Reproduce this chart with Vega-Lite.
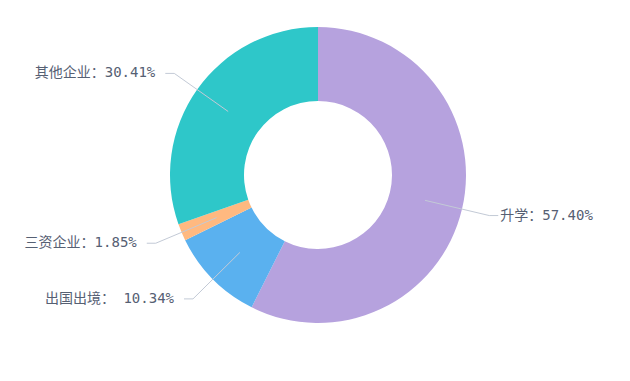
{
  "$schema": "https://vega.github.io/schema/vega-lite/v6.json",
  "width": 626,
  "height": 340,
  "padding": 5,
  "autosize": {"type": "none"},
  "background": "white",
  "config": {"view": {"stroke": null}},
  "data": {
    "values": [
      {"cat": "升学", "value": 57.40, "label": "升学：57.40%"},
      {"cat": "出国出境", "value": 10.34, "label": "出国出境： 10.34%"},
      {"cat": "三资企业", "value": 1.85, "label": "三资企业：1.85%"},
      {"cat": "其他企业", "value": 30.41, "label": "其他企业：30.41%"}
    ]
  },
  "transform": [
    {"window": [{"op": "row_number", "as": "idx"}]},
    {"joinaggregate": [{"op": "sum", "field": "value", "as": "total"}]},
    {"window": [{"op": "sum", "field": "value", "as": "cum"}], "sort": [{"field": "idx"}], "frame": [null, 0]},
    {"calculate": "2*PI*(datum.cum - datum.value/2)/datum.total", "as": "mid"},
    {"calculate": "sin(datum.mid)", "as": "sx"},
    {"calculate": "cos(datum.mid)", "as": "cy"},
    {"calculate": "datum.sx >= 0 ? 1 : -1", "as": "side"},
    {"calculate": "110*datum.sx", "as": "x0"},
    {"calculate": "110*datum.cy", "as": "y0"},
    {"calculate": "176*datum.sx", "as": "x1"},
    {"calculate": "176*datum.cy", "as": "y1"},
    {"calculate": "datum.x1 + datum.side*9", "as": "x2"},
    {"calculate": "datum.side > 0 ? datum.x2 + 2 : datum.x2 - 10", "as": "tx"}
  ],
  "layer": [
    {
      "mark": {"type": "arc", "outerRadius": 148, "innerRadius": 74},
      "encoding": {
        "theta": {"field": "value", "type": "quantitative", "stack": true},
        "order": {"field": "idx", "type": "quantitative"},
        "color": {
          "field": "cat",
          "type": "nominal",
          "scale": {"domain": ["升学", "出国出境", "三资企业", "其他企业"], "range": ["#b6a2de", "#5ab1ef", "#ffb980", "#2ec7c9"]},
          "legend": null
        }
      }
    },
    {
      "mark": {"type": "rule", "color": "#c3cad6", "strokeWidth": 1},
      "encoding": {
        "x": {"field": "x0", "type": "quantitative", "scale": {"domain": [-313, 313], "nice": false, "zero": false}, "axis": null},
        "y": {"field": "y0", "type": "quantitative", "scale": {"domain": [-170, 170], "nice": false, "zero": false}, "axis": null},
        "x2": {"field": "x1"},
        "y2": {"field": "y1"}
      }
    },
    {
      "mark": {"type": "rule", "color": "#c3cad6", "strokeWidth": 1},
      "encoding": {
        "x": {"field": "x1", "type": "quantitative", "scale": {"domain": [-313, 313], "nice": false, "zero": false}, "axis": null},
        "y": {"field": "y1", "type": "quantitative", "scale": {"domain": [-170, 170], "nice": false, "zero": false}, "axis": null},
        "x2": {"field": "x2"}
      }
    },
    {
      "transform": [{"filter": "datum.side > 0"}],
      "mark": {"type": "text", "align": "left", "baseline": "middle", "font": "DejaVu Sans Mono, Noto Sans CJK SC", "fontSize": 14, "color": "#566073"},
      "encoding": {
        "x": {"field": "tx", "type": "quantitative", "scale": {"domain": [-313, 313], "nice": false, "zero": false}, "axis": null},
        "y": {"field": "y1", "type": "quantitative", "scale": {"domain": [-170, 170], "nice": false, "zero": false}, "axis": null},
        "text": {"field": "label"}
      }
    },
    {
      "transform": [{"filter": "datum.side < 0"}],
      "mark": {"type": "text", "align": "right", "baseline": "middle", "font": "DejaVu Sans Mono, Noto Sans CJK SC", "fontSize": 14, "color": "#566073"},
      "encoding": {
        "x": {"field": "tx", "type": "quantitative", "scale": {"domain": [-313, 313], "nice": false, "zero": false}, "axis": null},
        "y": {"field": "y1", "type": "quantitative", "scale": {"domain": [-170, 170], "nice": false, "zero": false}, "axis": null},
        "text": {"field": "label"}
      }
    }
  ]
}
